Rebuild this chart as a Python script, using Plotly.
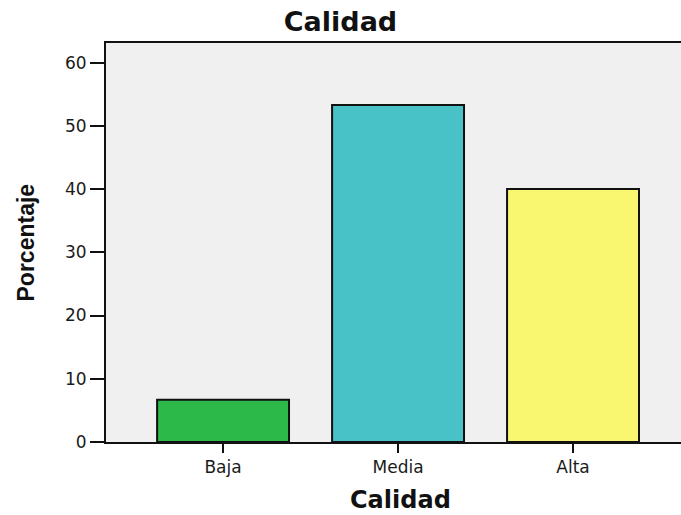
import plotly.graph_objects as go

# Calidad: percentage of cases in each quality level
categorias = ["Baja", "Media", "Alta"]
porcentajes = [6.7, 53.3, 40.0]
colores = ["#2db84a", "#48c2c6", "#f9f670"]
ticks_y = [0, 10, 20, 30, 40, 50, 60]

W, H = 681, 515
M_L, M_R, M_T, M_B = 106, 0, 43, 73

fig = go.Figure(
    go.Bar(
        x=categorias,
        y=porcentajes,
        marker=dict(color=colores, line=dict(color="#111111", width=2)),
        width=0.754,
        hoverinfo="x+y",
    )
)

tick_font = dict(family="DejaVu Sans", size=17, color="#1a1a1a")
bold_font = dict(family="DejaVu Sans", size=24, color="#111111", weight="bold")

fig.update_layout(
    width=W,
    height=H,
    margin=dict(l=M_L, r=M_R, t=M_T, b=M_B, pad=0),
    paper_bgcolor="white",
    plot_bgcolor="#f0f0f0",
    showlegend=False,
    title=dict(
        text="Calidad",
        x=0.5,
        xref="container",
        xanchor="center",
        y=1 - 22 / H,
        yref="container",
        yanchor="middle",
        font=dict(family="DejaVu Sans", size=27, color="#111111", weight="bold"),
    ),
    xaxis=dict(
        type="category",
        range=[-0.669, 2.617],
        showline=True,
        linecolor="#111111",
        linewidth=2,
        mirror=True,
        ticks="outside",
        ticklen=9,
        tickwidth=2,
        tickcolor="#111111",
        tickfont=tick_font,
        showgrid=False,
        zeroline=False,
    ),
    yaxis=dict(
        range=[0, 63.1],
        tickvals=ticks_y,
        showline=True,
        linecolor="#111111",
        linewidth=2,
        mirror=False,
        ticks="outside",
        ticklen=14,
        tickwidth=2,
        tickcolor="#111111",
        tickfont=tick_font,
        showgrid=False,
        zeroline=False,
    ),
    annotations=[
        dict(
            text="Porcentaje",
            xref="paper",
            yref="paper",
            x=(25 - M_L) / (W - M_L - M_R),
            y=0.5,
            xanchor="center",
            yanchor="middle",
            textangle=-90,
            showarrow=False,
            font=dict(family="Liberation Sans", size=23, color="#111111", weight="bold"),
        ),
        dict(
            text="Calidad",
            xref="paper",
            yref="paper",
            x=(400 - M_L) / (W - M_L - M_R),
            y=-(500 - (H - M_B)) / (H - M_T - M_B),
            xanchor="center",
            yanchor="middle",
            showarrow=False,
            font=bold_font,
        ),
    ],
)

fig.write_html("out.html")
